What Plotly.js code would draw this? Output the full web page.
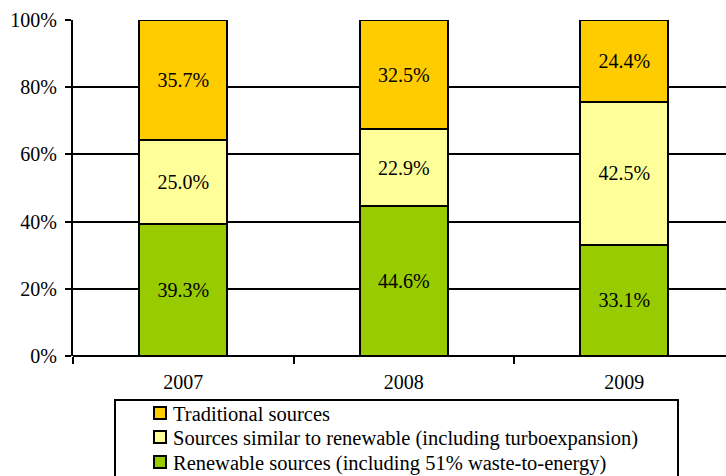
<!DOCTYPE html>
<html><head><meta charset="utf-8">
<script src="https://cdn.plot.ly/plotly-3.0.1.min.js"></script>
<style>html,body{margin:0;padding:0;background:#fff;}#chart{width:726px;height:476px;}</style>
</head><body><div id="chart"></div>
<script>
const years = ["2007", "2008", "2009"];
const renewable = [39.3, 44.6, 33.1];
const similar = [25.0, 22.9, 42.5];
const traditional = [35.7, 32.5, 24.4];
const seriesNames = [
  "Renewable sources (including 51% waste-to-energy)",
  "Sources similar to renewable (including turboexpansion)",
  "Traditional sources"
];
const yTickVals = [0, 20, 40, 60, 80, 100];
const yTickText = ["0%", "20%", "40%", "60%", "80%", "100%"];

const colors = ["#99CC00", "#FFFF99", "#FFCC00"];
const vals = [renewable, similar, traditional];
const font = {family: "Liberation Serif", size: 20, color: "#000"};
const legFont = {family: "Liberation Serif", size: 20.5, color: "#000"};

const traces = vals.map((v, i) => ({
  type: "bar",
  x: years,
  y: v,
  name: seriesNames[i],
  marker: {color: colors[i], line: {color: "#000", width: 2}},
  text: v.map(d => d.toFixed(1) + "%"),
  textposition: "inside",
  insidetextanchor: "middle",
  textfont: font,
  hoverinfo: "skip"
}));

// legend (drawn by hand, ordered top-down: Traditional, Similar, Renewable)
const W = 653, H = 336, L = 73, T = 20;
const px = x => (x - L) / W;
const py = y => (T + H - y) / H;
const shapes = [{
  type: "rect", xref: "paper", yref: "paper",
  x0: px(115), x1: px(678), y0: py(400), y1: py(490),
  line: {color: "#000", width: 2}, fillcolor: "#fff", layer: "above"
}];
const annotations = [];
const rowY = [413, 437, 462];
[2, 1, 0].forEach((si, r) => {
  const cy = rowY[r];
  shapes.push({
    type: "rect", xref: "paper", yref: "paper",
    x0: px(154), x1: px(166), y0: py(cy + 6), y1: py(cy - 6),
    line: {color: "#000", width: 2}, fillcolor: colors[si], layer: "above"
  });
  annotations.push({
    xref: "paper", yref: "paper", x: px(171), y: py(cy + 1),
    xanchor: "left", yanchor: "middle", showarrow: false,
    text: seriesNames[si], font: legFont
  });
});

const layout = {
  width: 726, height: 476,
  margin: {l: L, r: 0, t: T, b: 476 - T - H, autoexpand: false},
  barmode: "stack",
  bargap: 0.6,
  paper_bgcolor: "#fff", plot_bgcolor: "#fff",
  font: font,
  showlegend: false,
  shapes: shapes,
  annotations: annotations,
  xaxis: {
    type: "category",
    range: [-0.5, 2.461],
    tickson: "boundaries",
    ticks: "outside", ticklen: 7, tickwidth: 2, tickcolor: "#000",
    ticklabelstandoff: 12,
    showgrid: false, showline: false, zeroline: false,
    tickfont: font
  },
  yaxis: {
    range: [0, 100],
    tickvals: yTickVals, ticktext: yTickText,
    ticks: "outside", ticklen: 6, tickwidth: 2, tickcolor: "#000",
    ticklabelstandoff: 4,
    showgrid: true, gridcolor: "#000", gridwidth: 2,
    showline: true, linecolor: "#000", linewidth: 2,
    zeroline: true, zerolinecolor: "#000", zerolinewidth: 2,
    tickfont: font
  }
};
Plotly.newPlot("chart", traces, layout, {displayModeBar: false, staticPlot: true});
</script></body></html>
